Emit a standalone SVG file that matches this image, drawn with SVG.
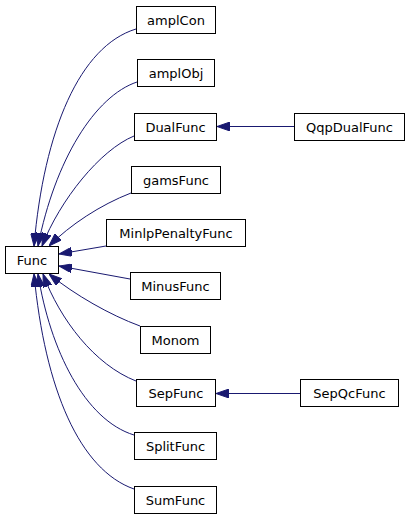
<svg xmlns="http://www.w3.org/2000/svg" width="411" height="520" viewBox="0 0 411 520">
<defs>
<style>
.node rect{fill:#fff;stroke:#000;stroke-width:1}
.node text{font-family:"DejaVu Sans",sans-serif;font-size:13px;fill:#000;text-anchor:middle}
.edge{fill:none;stroke:#191970;stroke-width:1}
</style>
<marker id="ah" viewBox="0 0 13 9" refX="13" refY="4.5" markerWidth="13" markerHeight="9" markerUnits="userSpaceOnUse" orient="auto">
<path d="M0,0 L13,4.5 L0,9 z" fill="#191970" stroke="#191970"/>
</marker>
</defs>
<rect width="411" height="520" fill="#fff"/>
<g id="edges">
<path class="edge" marker-end="url(#ah)" d="M136,29 C80,46 44,130 34,246"/>
<path class="edge" marker-end="url(#ah)" d="M137,82 C95,96 55,160 38,246"/>
<path class="edge" marker-end="url(#ah)" d="M134,136 C100,150 60,200 42,246"/>
<path class="edge" marker-end="url(#ah)" d="M131,193 C100,205 70,225 49,246"/>
<path class="edge" marker-end="url(#ah)" d="M106,246 L59,254"/>
<path class="edge" marker-end="url(#ah)" d="M130,279 L59,266"/>
<path class="edge" marker-end="url(#ah)" d="M140,326 C110,315 75,295 49,274"/>
<path class="edge" marker-end="url(#ah)" d="M136,381 C95,365 60,320 43,274"/>
<path class="edge" marker-end="url(#ah)" d="M134,435 C85,420 50,350 38,274"/>
<path class="edge" marker-end="url(#ah)" d="M134,489 C80,470 45,390 34,274"/>
<path class="edge" marker-end="url(#ah)" d="M294,126.5 L217,126.5"/>
<path class="edge" marker-end="url(#ah)" d="M300,393.5 L216,393.5"/>
</g>
<g id="Func" class="node"><rect x="5.5" y="246.5" width="53" height="27"/><text x="32" y="265">Func</text></g>
<g id="amplCon" class="node"><rect x="136.5" y="6.5" width="79" height="27"/><text x="176" y="25">amplCon</text></g>
<g id="amplObj" class="node"><rect x="137.5" y="59.5" width="77" height="27"/><text x="176" y="78">amplObj</text></g>
<g id="DualFunc" class="node"><rect x="134.5" y="113.5" width="82" height="27"/><text x="175.5" y="132">DualFunc</text></g>
<g id="gamsFunc" class="node"><rect x="131.5" y="166.5" width="89" height="27"/><text x="176" y="185">gamsFunc</text></g>
<g id="MinlpPenaltyFunc" class="node"><rect x="106.5" y="219.5" width="139" height="27"/><text x="176" y="238">MinlpPenaltyFunc</text></g>
<g id="MinusFunc" class="node"><rect x="130.5" y="272.5" width="90" height="27"/><text x="175.5" y="291">MinusFunc</text></g>
<g id="Monom" class="node"><rect x="140.5" y="326.5" width="70" height="27"/><text x="175.5" y="345">Monom</text></g>
<g id="SepFunc" class="node"><rect x="136.5" y="379.5" width="79" height="27"/><text x="176" y="398">SepFunc</text></g>
<g id="SplitFunc" class="node"><rect x="134.5" y="432.5" width="82" height="27"/><text x="175.5" y="451">SplitFunc</text></g>
<g id="SumFunc" class="node"><rect x="134.5" y="486.5" width="82" height="27"/><text x="175.5" y="505">SumFunc</text></g>
<g id="QqpDualFunc" class="node"><rect x="294.5" y="113.5" width="110" height="27"/><text x="349.5" y="132">QqpDualFunc</text></g>
<g id="SepQcFunc" class="node"><rect x="300.5" y="379.5" width="98" height="27"/><text x="349.5" y="398">SepQcFunc</text></g>
</svg>
